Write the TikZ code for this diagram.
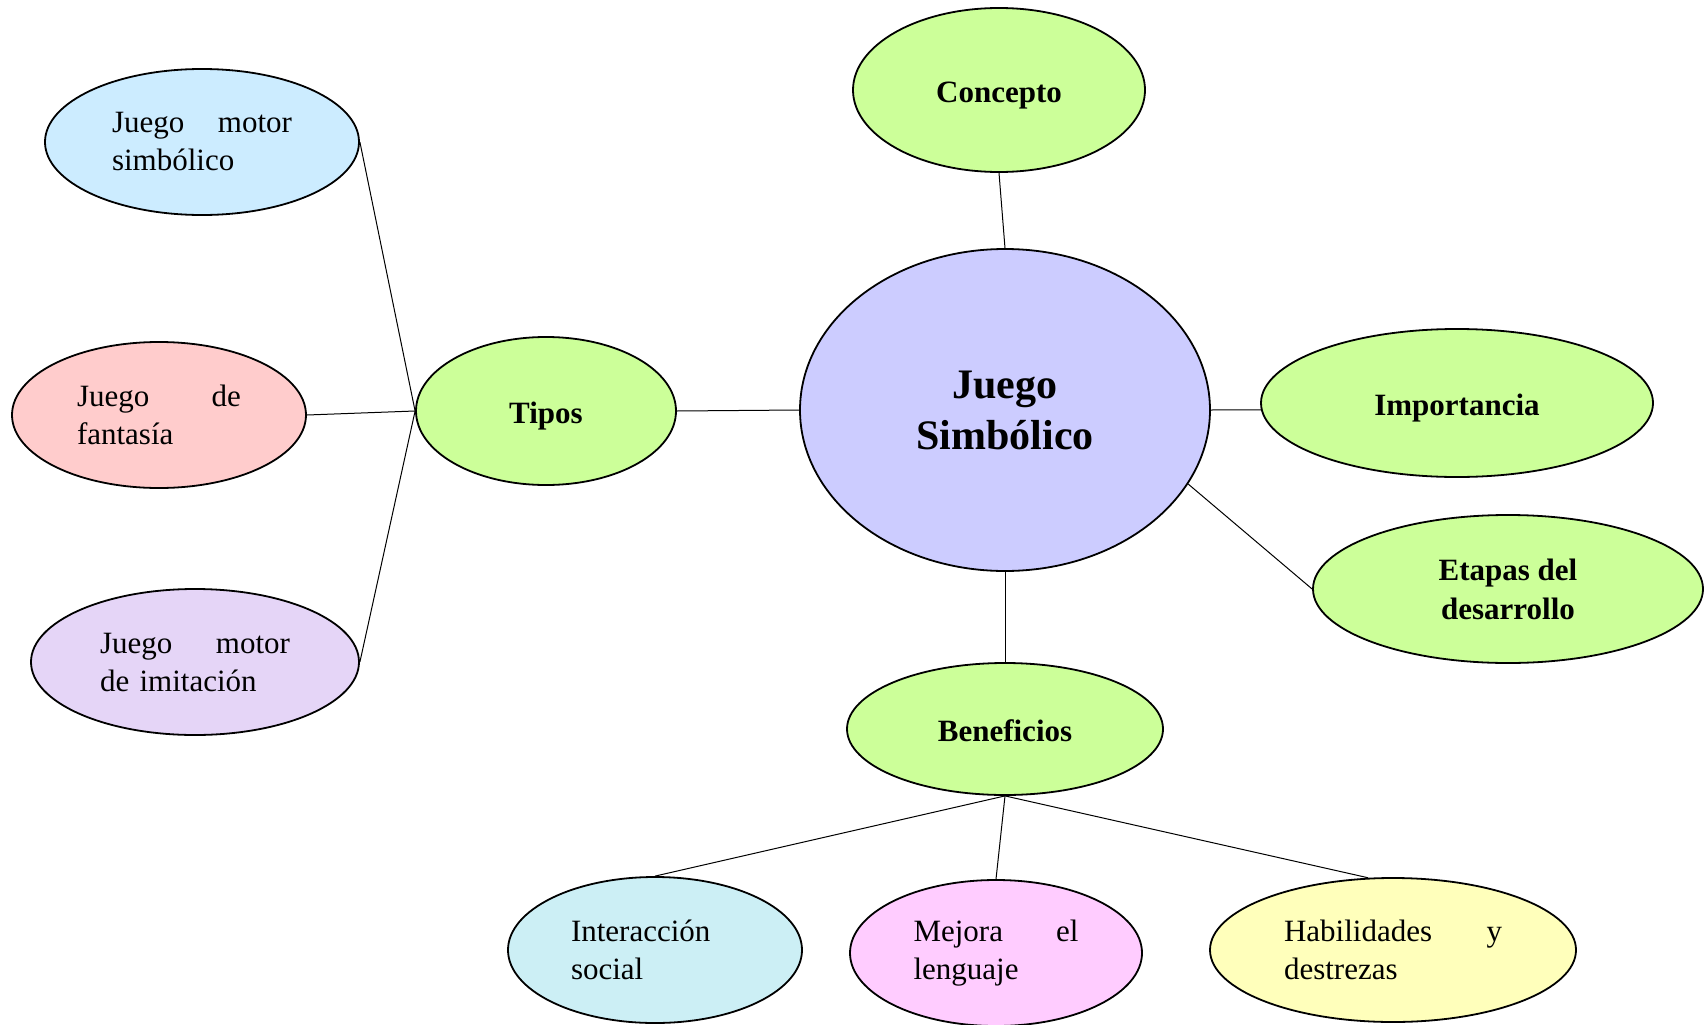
\documentclass[tikz,border=0pt]{standalone}
\usepackage{fontspec}
\setmainfont{Liberation Serif}
\usetikzlibrary{shapes.geometric}
\definecolor{cLav}{HTML}{CCCCFF}
\definecolor{cGreen}{HTML}{CCFF99}
\definecolor{cBlue}{HTML}{CCECFF}
\definecolor{cPink}{HTML}{FFCCCC}
\definecolor{cLilac}{HTML}{E5D5F7}
\definecolor{cCyan}{HTML}{CCEFF5}
\definecolor{cMag}{HTML}{FFCCFF}
\definecolor{cYel}{HTML}{FFFFBB}
\tikzset{
  bub/.style={ellipse, draw=black, line width=1.8pt, inner sep=0pt},
  link/.style={line width=1pt},
  hd/.style={font=\fontsize{31}{39}\selectfont\bfseries, align=center},
  hdone/.style={hd, text height=31pt, text depth=7pt},
  tx/.style={font=\fontsize{31}{38}\selectfont, align=left},
}
\begin{document}
\begin{tikzpicture}[x=1pt,y=-1pt]
\useasboundingbox (0,0) rectangle (1705,1025);
% central
\node[bub, fill=cLav, minimum width=410, minimum height=322,
      font=\fontsize{42}{51}\selectfont\bfseries, align=center] (central) at (1005,410) {Juego\\Simbólico};
% green nodes
\node[bub, fill=cGreen, minimum width=292, minimum height=164, hdone] (concepto) at (999,90) {Concepto};
\node[bub, fill=cGreen, minimum width=260, minimum height=148, hdone] (tipos) at (546,411) {Tipos};
\node[bub, fill=cGreen, minimum width=392, minimum height=148, hdone] (importancia) at (1457,403) {Importancia};
\node[bub, fill=cGreen, minimum width=390, minimum height=148, hd] (etapas) at (1508,589) {Etapas del\\desarrollo};
\node[bub, fill=cGreen, minimum width=316, minimum height=132, hdone] (beneficios) at (1005,729) {Beneficios};
% left nodes
\node[bub, fill=cBlue, minimum width=314, minimum height=146, tx, text width=180] (sim) at (202,142) {Juego\hfill motor\\simbólico};
\node[bub, fill=cPink, minimum width=294, minimum height=146, tx, text width=164] (fant) at (159,415) {Juego\hfill de\\fantasía};
\node[bub, fill=cLilac, minimum width=328, minimum height=146, tx, text width=190] (imit) at (195,662) {Juego\hfill motor\\de imitación};
% bottom nodes
\node[bub, fill=cCyan, minimum width=294, minimum height=146, tx, text width=168] (inter) at (655,950) {Interacción\\social};
\node[bub, fill=cMag, minimum width=292, minimum height=146, tx, text width=165] (mejora) at (996,953) {Mejora\hfill el\\lenguaje};
\node[bub, fill=cYel, minimum width=366, minimum height=144, tx, text width=218] (hab) at (1393,950) {Habilidades\hfill y\\destrezas};
% connectors
\draw[link] (concepto.south) -- (central.north);
\draw[link] (tipos.east) -- (central.west);
\draw[link] (central.east) -- (importancia.182);
\draw[link] (central.-22) -- (etapas.west);
\draw[link] (central.south) -- (beneficios.north);
\draw[link] (tipos.west) -- (sim.east);
\draw[link] (tipos.west) -- (fant.east);
\draw[link] (tipos.west) -- (imit.east);
\draw[link] (beneficios.south) -- (inter.north);
\draw[link] (beneficios.south) -- (mejora.north);
\draw[link] (beneficios.south) -- (hab.109);
\end{tikzpicture}
\end{document}
